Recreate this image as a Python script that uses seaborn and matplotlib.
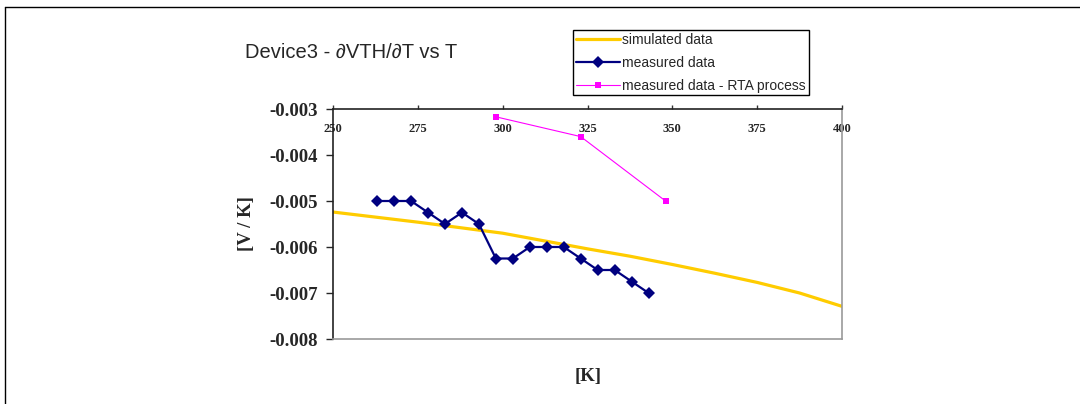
import matplotlib
matplotlib.use("Agg")
import matplotlib.pyplot as plt
from matplotlib.lines import Line2D
import pandas as pd
import seaborn as sns

# chart values
sim_temp = [250, 262.5, 275, 287.5, 300, 312.5, 325, 337.5, 350, 362.5, 375, 387.5, 400]
sim_dvdt = [-0.00524, -0.00535, -0.00546, -0.00558, -0.0057, -0.00587, -0.00604,
            -0.0062, -0.00638, -0.00657, -0.00677, -0.007, -0.00729]

meas_temp = [263, 268, 273, 278, 283, 288, 293, 298, 303, 308, 313, 318, 323, 328, 333, 338, 343]
meas_dvdt = [-0.005, -0.005, -0.005, -0.00525, -0.0055, -0.00525, -0.0055, -0.00625, -0.00625,
             -0.006, -0.006, -0.006, -0.00625, -0.0065, -0.0065, -0.00675, -0.007]

rta_temp = [298, 323, 348]
rta_dvdt = [-0.00317, -0.0036, -0.005]

x_ticks = [250, 275, 300, 325, 350, 375, 400]
y_ticks = [-0.003, -0.004, -0.005, -0.006, -0.007, -0.008]

sns.set_style("white")
plt.rcParams["font.family"] = ["Liberation Sans", "DejaVu Sans"]
plt.rcParams["axes.unicode_minus"] = False

W, H = 1080, 404
fig = plt.figure(figsize=(W / 100, H / 100), dpi=100)
ax = fig.add_axes([333 / W, 1 - 339 / H, (842 - 333) / W, (339 - 109) / H])

sim = pd.DataFrame({"T": sim_temp, "v": sim_dvdt})
meas = pd.DataFrame({"T": meas_temp, "v": meas_dvdt})
rta = pd.DataFrame({"T": rta_temp, "v": rta_dvdt})

sns.lineplot(data=sim, x="T", y="v", ax=ax, color="#FFCC00", lw=2.3,
             sort=False, estimator=None, label="simulated data", zorder=2)
sns.lineplot(data=meas, x="T", y="v", ax=ax, color="#000080", lw=1.6, marker="D",
             markersize=6.5, markeredgewidth=0, sort=False, estimator=None,
             label="measured data", zorder=3)
sns.lineplot(data=rta, x="T", y="v", ax=ax, color="#FF00FF", lw=0.8, marker="s",
             markersize=5, markeredgewidth=0, sort=False, estimator=None,
             label="measured data - RTA process", zorder=3)

ax.set_xlim(250, 400)
ax.set_ylim(-0.008, -0.003)
ax.set_xticks(x_ticks)
ax.set_yticks(y_ticks)
ax.set_xticklabels([str(t) for t in x_ticks], fontfamily="Liberation Serif",
                   fontweight="bold", fontsize=9)
ax.set_yticklabels([f"{t:.3f}" for t in y_ticks], fontfamily="Liberation Serif",
                   fontweight="bold", fontsize=13.5)

ax.tick_params(axis="x", top=True, bottom=False, labeltop=True, labelbottom=False,
               direction="out", length=3, width=1, pad=-22, color="#333333")
ax.tick_params(axis="y", left=True, direction="out", length=5, width=1, pad=6)

for side in ["left", "top"]:
    ax.spines[side].set_color("#222222")
    ax.spines[side].set_linewidth(1.2)
for side in ["right", "bottom"]:
    ax.spines[side].set_color("#999999")
    ax.spines[side].set_linewidth(1.2)

ax.set_xlabel("")
ax.set_ylabel("")
fig.text(246 / W, 1 - 224 / H, "[V / K]", rotation=90, ha="center", va="center",
         fontfamily="Liberation Serif", fontweight="bold", fontsize=13.5)
fig.text(588 / W, 1 - 377 / H, "[K]", ha="center", va="center",
         fontfamily="Liberation Serif", fontweight="bold", fontsize=13.5)

fig.text(245 / W, 1 - 58 / H, "Device3 - ∂VTH/∂T vs T",
         ha="left", va="baseline", fontsize=14.5)

handles, labels = ax.get_legend_handles_labels()
ax.get_legend().remove()
leg = fig.legend(handles, labels, loc="upper left",
                 bbox_to_anchor=(573 / W, 1 - 30 / H), fontsize=10,
                 frameon=True, fancybox=False, shadow=False, framealpha=1,
                 edgecolor="black", handlelength=3.2, handletextpad=0.15,
                 labelspacing=0.64, borderpad=0.2, borderaxespad=0)
leg.get_frame().set_linewidth(1)

# page border around the chart
fig.add_artist(Line2D([5 / W, 1], [1 - 7 / H, 1 - 7 / H], color="black", lw=1))
fig.add_artist(Line2D([5 / W, 5 / W], [0, 1 - 7 / H], color="black", lw=1))

fig.savefig("out.png", dpi=100)
